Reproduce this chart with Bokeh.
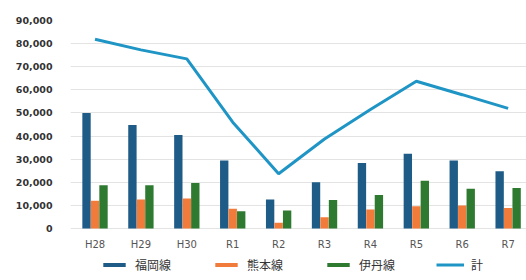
from bokeh.plotting import figure
from bokeh.models import ColumnDataSource, FixedTicker, Legend, LegendItem, NumeralTickFormatter, Range1d
from bokeh.core.properties import value
from bokeh.transform import dodge
from bokeh.embed import file_html
from bokeh.resources import INLINE

categories = ["H28", "H29", "H30", "R1", "R2", "R3", "R4", "R5", "R6", "R7"]
fukuoka = [50000, 44800, 40500, 29400, 12500, 20000, 28300, 32300, 29400, 24800]
kumamoto = [12000, 12500, 13000, 8500, 2500, 4900, 8200, 9600, 10000, 8900]
itami = [18700, 18700, 19700, 7500, 7800, 12300, 14500, 20700, 17200, 17500]
total = [81900, 77300, 73400, 46000, 23700, 38700, 51500, 63700, 57900, 52000]
y_ticks = list(range(0, 90001, 10000))

idx = list(range(len(categories)))
src = ColumnDataSource(dict(x=idx, cat=categories, fukuoka=fukuoka, kumamoto=kumamoto,
                            itami=itami, total=total, laby=[-6900] * len(idx)))

p = figure(width=526, height=280, output_backend="svg", toolbar_location=None,
           x_range=Range1d(-0.534, 9.40), y_range=Range1d(-22500, 90000),
           x_axis_location=None,
           min_border_left=70, min_border_right=0, min_border_top=20, min_border_bottom=0)
p.outline_line_color = None
p.background_fill_color = "white"
p.border_fill_color = "white"

w = 0.182
r1 = p.vbar(x=dodge("x", -0.185), top="fukuoka", width=w, source=src, fill_color="#1e5b86", line_color=None)
r2 = p.vbar(x=dodge("x", 0.0), top="kumamoto", width=w, source=src, fill_color="#f07b3b", line_color=None)
r3 = p.vbar(x=dodge("x", 0.185), top="itami", width=w, source=src, fill_color="#2e7a30", line_color=None)
r4 = p.line(x="x", y="total", source=src, line_color="#1f95c5", line_width=3)

p.text(x="x", y="laby", text="cat", source=src, text_align="center", text_baseline="middle",
       text_font=value("DejaVu Sans"), text_font_size="10px", text_color="#555555")

p.yaxis.ticker = FixedTicker(ticks=y_ticks)
p.yaxis.formatter = NumeralTickFormatter(format="0,0")
p.yaxis.axis_line_color = None
p.yaxis.major_tick_line_color = None
p.yaxis.minor_tick_line_color = None
p.yaxis.major_label_text_font = "DejaVu Sans"
p.yaxis.major_label_text_font_size = "9.5px"
p.yaxis.major_label_text_font_style = "bold"
p.yaxis.major_label_text_color = "#333333"
p.yaxis.major_label_standoff = 12

p.xgrid.grid_line_color = None
p.ygrid.ticker = FixedTicker(ticks=y_ticks)
p.ygrid.grid_line_color = "#e3e3e3"
p.ygrid.grid_line_width = 1

legend = Legend(items=[LegendItem(label="福岡線", renderers=[r1]),
                       LegendItem(label="熊本線", renderers=[r2]),
                       LegendItem(label="伊丹線", renderers=[r3]),
                       LegendItem(label="計", renderers=[r4])],
                orientation="horizontal", location=(30, 7),
                glyph_width=28, glyph_height=5, label_standoff=7, spacing=41,
                padding=0, margin=0, border_line_color=None, background_fill_alpha=0,
                label_text_font="Noto Sans CJK JP", label_text_font_size="12px",
                label_text_color="#333333", label_height=14)
p.add_layout(legend, "center")

open("out.html", "w").write(file_html(p, INLINE))
